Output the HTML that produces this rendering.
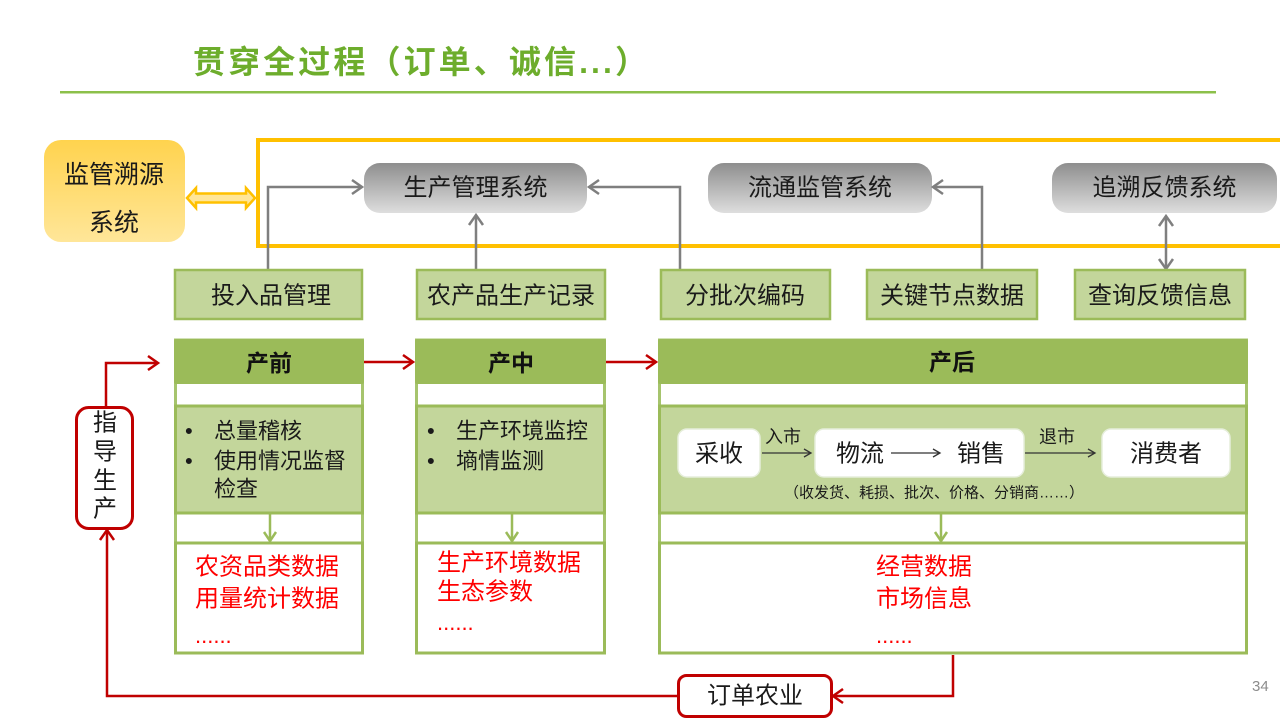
<!DOCTYPE html>
<html><head><meta charset="utf-8"><style>
html,body{margin:0;padding:0;background:#fff;}
svg{display:block;font-family:"Liberation Sans","Noto Sans CJK SC",sans-serif;}
</style></head><body>
<svg width="1280" height="719" viewBox="0 0 1280 719" xmlns="http://www.w3.org/2000/svg">
<defs>
<linearGradient id="gy" x1="0" y1="0" x2="0" y2="1"><stop offset="0" stop-color="#8e8e8e"/><stop offset="1" stop-color="#dedede"/></linearGradient>
<linearGradient id="yl" x1="0" y1="0" x2="0" y2="1"><stop offset="0" stop-color="#ffd34e"/><stop offset="1" stop-color="#ffe699"/></linearGradient>
</defs>

<!-- title -->
<text x="193" y="62" dominant-baseline="central" font-size="32" font-weight="bold" fill="#6dad2c" textLength="454" lengthAdjust="spacing">贯穿全过程（订单、诚信...）</text>
<rect x="60" y="91" width="1156" height="2.5" fill="#8cc04a"/>

<!-- yellow frame -->
<rect x="258" y="140" width="1040" height="106" fill="none" stroke="#ffc000" stroke-width="4"/>

<!-- 监管溯源系统 -->
<rect x="44" y="140" width="141" height="102" rx="17" fill="url(#yl)"/>
<text x="114" y="175" text-anchor="middle" dominant-baseline="central" font-size="25" fill="#1a1a1a">监管溯源</text>
<text x="114" y="223" text-anchor="middle" dominant-baseline="central" font-size="25" fill="#1a1a1a">系统</text>
<polygon points="187,198 196,188 196,193.5 246,193.5 246,188 255,198 246,208 246,202.5 196,202.5 196,208" fill="#ffe699" stroke="#ffc000" stroke-width="2.5" stroke-linejoin="miter"/>

<!-- system boxes -->
<rect x="364" y="163" width="223" height="50" rx="16" fill="url(#gy)"/>
<text x="475.5" y="188" text-anchor="middle" dominant-baseline="central" font-size="24" fill="#1a1a1a">生产管理系统</text>
<rect x="708" y="163" width="224" height="50" rx="16" fill="url(#gy)"/>
<text x="820" y="188" text-anchor="middle" dominant-baseline="central" font-size="24" fill="#1a1a1a">流通监管系统</text>
<rect x="1052" y="163" width="225" height="50" rx="16" fill="url(#gy)"/>
<text x="1164.5" y="188" text-anchor="middle" dominant-baseline="central" font-size="24" fill="#1a1a1a">追溯反馈系统</text>

<!-- gray connectors -->
<g fill="none" stroke="#7f7f7f" stroke-width="2.5">
<polyline points="268,270 268,187 361,187"/>
<polyline points="352,180 362,187 352,194"/>
<line x1="476" y1="270" x2="476" y2="216"/>
<polyline points="469,225 476,215 483,225"/>
<polyline points="680,270 680,187 590,187"/>
<polyline points="599,180 589,187 599,194"/>
<polyline points="982,270 982,187 934,187"/>
<polyline points="943,180 933,187 943,194"/>
<line x1="1166" y1="217" x2="1166" y2="268"/>
<polyline points="1159,226 1166,216 1173,226"/>
<polyline points="1159,259 1166,269 1173,259"/>
</g>

<!-- green row boxes -->
<g fill="#c3d69b" stroke="#9bbb59" stroke-width="2.5">
<rect x="175" y="270" width="187" height="49"/>
<rect x="417" y="270" width="188" height="49"/>
<rect x="661" y="270" width="169" height="49"/>
<rect x="867" y="270" width="170" height="49"/>
<rect x="1075" y="270" width="170" height="49"/>
</g>
<g font-size="24" fill="#1a1a1a" text-anchor="middle" dominant-baseline="central">
<text x="271" y="296">投入品管理</text>
<text x="511" y="296">农产品生产记录</text>
<text x="745" y="296">分批次编码</text>
<text x="952" y="296">关键节点数据</text>
<text x="1160" y="296">查询反馈信息</text>
</g>

<!-- stage columns -->
<g stroke="#a6c46d" stroke-width="3" fill="#fff">
<rect x="175.5" y="340" width="187" height="313"/>
<rect x="416.5" y="340" width="188" height="313"/>
<rect x="659.5" y="340" width="587" height="313"/>
</g>
<g fill="#9bbb59">
<rect x="174" y="339" width="190" height="45" rx="2"/>
<rect x="415" y="339" width="191" height="45" rx="2"/>
<rect x="658" y="339" width="590" height="45" rx="2"/>
</g>
<g fill="#c3d69b" stroke="#9bbb59" stroke-width="3">
<rect x="175.5" y="406" width="187" height="107"/>
<rect x="416.5" y="406" width="188" height="107"/>
<rect x="659.5" y="406" width="587" height="107"/>
</g>
<g fill="#fff" stroke="#9bbb59" stroke-width="3">
<rect x="175.5" y="543" width="187" height="110"/>
<rect x="416.5" y="543" width="188" height="110"/>
<rect x="659.5" y="543" width="587" height="110"/>
</g>
<g font-size="23" font-weight="bold" fill="#111" text-anchor="middle" dominant-baseline="central">
<text x="269" y="363">产前</text>
<text x="511" y="363">产中</text>
<text x="952" y="362">产后</text>
</g>
<!-- green down arrows -->
<g fill="none" stroke="#9bbb59" stroke-width="2.5">
<line x1="270" y1="514" x2="270" y2="541"/><polyline points="264,532 270,541 276,532"/>
<line x1="512" y1="514" x2="512" y2="541"/><polyline points="506,532 512,541 518,532"/>
<line x1="941" y1="514" x2="941" y2="541"/><polyline points="935,532 941,541 947,532"/>
</g>

<!-- bullets -->
<g font-size="22" fill="#1a1a1a" dominant-baseline="central">
<text x="185" y="431">•</text><text x="214" y="431">总量稽核</text>
<text x="185" y="461">•</text><text x="214" y="461">使用情况监督</text>
<text x="214" y="489">检查</text>
<text x="427" y="431">•</text><text x="456" y="431">生产环境监控</text>
<text x="427" y="461">•</text><text x="456" y="461">墒情监测</text>
</g>

<!-- 产后 inner flow -->
<g fill="#fff" stroke="#e6eedb" stroke-width="1.5">
<rect x="678" y="429" width="82" height="48" rx="9"/>
<rect x="815" y="429" width="209" height="48" rx="9"/>
<rect x="1102" y="429" width="128" height="48" rx="9"/>
</g>
<g font-size="24" fill="#1a1a1a" text-anchor="middle" dominant-baseline="central">
<text x="719" y="454">采收</text>
<text x="860" y="454">物流</text>
<text x="981" y="454">销售</text>
<text x="1166" y="454">消费者</text>
</g>
<g font-size="18" fill="#1a1a1a" text-anchor="middle" dominant-baseline="central">
<text x="783" y="437">入市</text>
<text x="1057" y="437">退市</text>
</g>
<g fill="none" stroke="#333" stroke-width="1.3">
<line x1="762" y1="453" x2="810" y2="453"/><polyline points="804,449 811,453 804,457"/>
<line x1="891" y1="453" x2="939" y2="453"/><polyline points="933,449 940,453 933,457"/>
<line x1="1025" y1="453" x2="1094" y2="453"/><polyline points="1088,449 1095,453 1088,457"/>
</g>
<text x="934" y="493" text-anchor="middle" dominant-baseline="central" font-size="15" fill="#1a1a1a">（收发货、耗损、批次、价格、分销商……）</text>

<!-- red data text -->
<g font-size="24" fill="#ff0000" dominant-baseline="central">
<text x="195" y="567">农资品类数据</text>
<text x="195" y="599">用量统计数据</text>
<text x="437" y="563">生产环境数据</text>
<text x="437" y="592">生态参数</text>
<text x="876" y="567">经营数据</text>
<text x="876" y="599">市场信息</text>
</g>
<g font-size="22" fill="#ff0000">
<text x="195" y="643">......</text>
<text x="437" y="630">......</text>
<text x="876" y="643">......</text>
</g>

<!-- red connectors -->
<g fill="none" stroke="#c00000" stroke-width="2.5">
<line x1="364" y1="362" x2="412" y2="362"/><polyline points="403,355 413,362 403,369"/>
<line x1="606" y1="362" x2="655" y2="362"/><polyline points="646,355 656,362 646,369"/>
<polyline points="106,406 106,363 156,363"/><polyline points="148,356 158,363 148,370"/>
<polyline points="953,655 953,696 835,696"/><polyline points="843,689 833,696 843,703"/>
<polyline points="678,696 107,696 107,532"/><polyline points="100,540 107,530 114,540"/>
</g>
<rect x="76.5" y="407.5" width="56" height="121" rx="12" fill="#fff" stroke="#c00000" stroke-width="3"/>
<g font-size="24" fill="#1a1a1a" text-anchor="middle" dominant-baseline="central">
<text x="105" y="423">指</text>
<text x="105" y="452">导</text>
<text x="105" y="481">生</text>
<text x="105" y="509">产</text>
</g>
<rect x="678.5" y="675.5" width="153" height="41" rx="8" fill="#fff" stroke="#c00000" stroke-width="3"/>
<text x="755" y="696" text-anchor="middle" dominant-baseline="central" font-size="24" fill="#1a1a1a">订单农业</text>

<text x="1252" y="691" font-size="15" fill="#8c8c8c">34</text>
</svg>
</body></html>
